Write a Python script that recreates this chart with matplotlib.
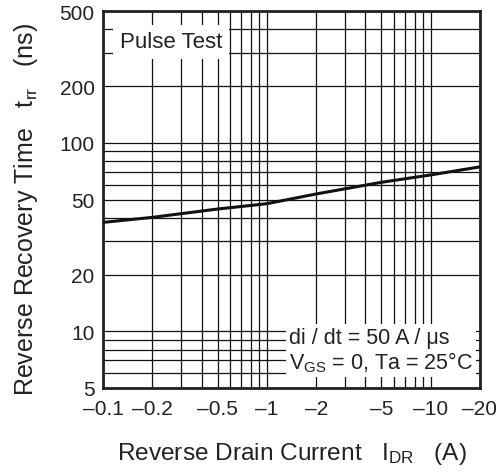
import matplotlib
matplotlib.use("Agg")
import matplotlib.pyplot as plt
from matplotlib.ticker import FixedLocator, FixedFormatter, NullFormatter

plt.rcParams['font.family'] = ['Liberation Sans', 'DejaVu Sans']
plt.rcParams['mathtext.fontset'] = 'custom'
plt.rcParams['mathtext.rm'] = 'Liberation Sans'
plt.rcParams['mathtext.it'] = 'Liberation Sans'

# reverse drain current (absolute value, A) and recovery time (ns)
current = [0.1, 0.2, 0.5, 1, 2, 5, 10, 20]
trr = [37.8, 40.2, 44.5, 47.5, 53.5, 61.7, 67.5, 74.5]

x_ticks = [0.1, 0.2, 0.5, 1, 2, 5, 10, 20]
x_labels = ['\u20130.1', '\u20130.2', '\u20130.5', '\u20131', '\u20132', '\u20135', '\u201310', '\u201320']
x_grid = [0.3, 0.4, 0.6, 0.7, 0.8, 0.9, 3, 4, 6, 7, 8, 9]
y_ticks = [5, 10, 20, 50, 100, 200, 500]
y_labels = ['5', '10', '20', '50', '100', '200', '500']
y_grid = [6, 7, 8, 9, 30, 40, 60, 70, 80, 90, 300, 400]

fs_tick = 15
fs_text = 15.5
ink = '#222222'

fig = plt.figure(figsize=(4.96, 4.77), dpi=100)
ax = fig.add_axes([0.2077, 0.1845, 0.76, 0.7903])

ax.plot(current, trr, color='#111111', lw=2.2, zorder=3)

ax.set_xscale('log')
ax.set_yscale('log')
ax.set_xlim(0.1, 20)
ax.set_ylim(5, 500)

ax.xaxis.set_major_locator(FixedLocator(x_ticks))
ax.xaxis.set_major_formatter(FixedFormatter(x_labels))
ax.xaxis.set_minor_locator(FixedLocator(x_grid))
ax.xaxis.set_minor_formatter(NullFormatter())
ax.yaxis.set_major_locator(FixedLocator(y_ticks))
ax.yaxis.set_major_formatter(FixedFormatter(y_labels))
ax.yaxis.set_minor_locator(FixedLocator(y_grid))
ax.yaxis.set_minor_formatter(NullFormatter())

ax.tick_params(which='both', length=0, labelsize=fs_tick, colors=ink)
ax.tick_params(axis='x', pad=8)
ax.tick_params(axis='y', pad=6)
ax.grid(True, which='both', color='#111111', lw=0.9)

for s in ax.spines.values():
    s.set_linewidth(2)
    s.set_color(ink)

ax.set_ylabel(r'Reverse Recovery Time   $\mathregular{t_{rr}}$   (ns)',
              fontsize=18, color=ink, labelpad=14)
ax.yaxis.label.set_y(0.475)
ax.set_xlabel(r'Reverse Drain Current   $\mathregular{I_{DR}}$   (A)',
              fontsize=17.6, color=ink, labelpad=16)

ax.text(0.18, 0.918, 'Pulse Test', transform=ax.transAxes, fontsize=16, color=ink,
        ha='center', va='center', zorder=4,
        bbox=dict(boxstyle='square,pad=0.3', fc='white', ec='none'))

ax.text(0.493, 0.10, 'di / dt = 50 A / \u03bcs\n$\\mathregular{V_{GS}}$ = 0, Ta = 25\u00b0C',
        transform=ax.transAxes, fontsize=fs_text, color=ink, ha='left', va='center',
        linespacing=1.05, zorder=4,
        bbox=dict(boxstyle='square,pad=0.15', fc='white', ec='none'))

fig.savefig('out.png', dpi=100)
